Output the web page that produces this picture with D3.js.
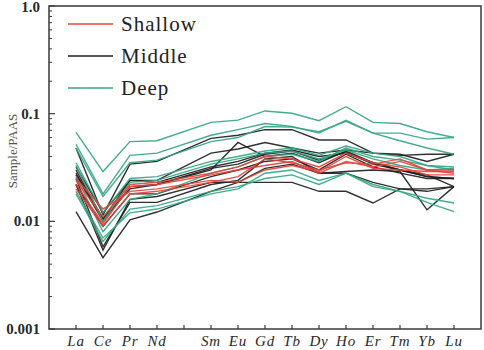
<!DOCTYPE html>
<html><head><meta charset="utf-8">
<script src="https://cdn.jsdelivr.net/npm/d3@7"></script>
<style>html,body{margin:0;padding:0;background:#fff;}svg{display:block;}</style>
</head><body><svg id="c" width="484" height="350"></svg>
<script>
const elements = ["La","Ce","Pr","Nd","Pm","Sm","Eu","Gd","Tb","Dy","Ho","Er","Tm","Yb","Lu"];
const labels = ["La","Ce","Pr","Nd","","Sm","Eu","Gd","Tb","Dy","Ho","Er","Tm","Yb","Lu"];
const plotted = ["La","Ce","Pr","Nd","Sm","Eu","Gd","Tb","Dy","Ho","Er","Tm","Yb","Lu"];
const yTicks = [0.001, 0.01, 0.1, 1];
const yTickLabels = ["0.001","0.01","0.1","1.0"];

const shallow = [
  [0.020,0.0090,0.018,0.019,0.023,0.026,0.038,0.035,0.030,0.035,0.034,0.038,0.030,0.030],
  [0.022,0.0095,0.021,0.022,0.027,0.030,0.033,0.036,0.028,0.036,0.032,0.036,0.030,0.028],
  [0.025,0.0130,0.019,0.020,0.024,0.023,0.030,0.033,0.029,0.040,0.031,0.030,0.029,0.029],
  [0.024,0.0110,0.022,0.023,0.028,0.032,0.040,0.038,0.032,0.043,0.035,0.032,0.027,0.027]
];
const middle = [
  [0.048,0.0115,0.034,0.036,0.059,0.063,0.071,0.071,0.057,0.057,0.043,0.041,0.042,0.042],
  [0.030,0.0105,0.024,0.024,0.043,0.047,0.054,0.048,0.043,0.046,0.043,0.042,0.036,0.042],
  [0.027,0.0100,0.021,0.022,0.030,0.054,0.040,0.043,0.035,0.045,0.035,0.030,0.026,0.025],
  [0.0123,0.0046,0.0103,0.0122,0.019,0.023,0.023,0.023,0.019,0.019,0.0148,0.020,0.020,0.021],
  [0.025,0.0058,0.015,0.015,0.022,0.024,0.038,0.040,0.028,0.029,0.030,0.029,0.0128,0.021],
  [0.022,0.0090,0.018,0.018,0.026,0.030,0.036,0.038,0.030,0.042,0.032,0.028,0.025,0.025],
  [0.028,0.0105,0.020,0.022,0.031,0.034,0.042,0.045,0.037,0.044,0.034,0.030,0.026,0.025],
  [0.032,0.0120,0.024,0.023,0.032,0.036,0.043,0.046,0.040,0.043,0.035,0.030,0.027,0.021],
  [0.022,0.0054,0.016,0.017,0.023,0.023,0.031,0.034,0.028,0.028,0.023,0.020,0.019,0.021]
];
const deep = [
  [0.067,0.029,0.055,0.056,0.083,0.087,0.106,0.101,0.086,0.116,0.083,0.081,0.068,0.060],
  [0.052,0.018,0.041,0.043,0.063,0.071,0.081,0.076,0.066,0.087,0.066,0.066,0.058,0.060],
  [0.048,0.017,0.035,0.037,0.055,0.060,0.076,0.075,0.068,0.085,0.066,0.056,0.048,0.042],
  [0.035,0.012,0.025,0.026,0.036,0.040,0.045,0.048,0.041,0.050,0.043,0.040,0.033,0.032],
  [0.033,0.010,0.023,0.024,0.034,0.038,0.043,0.045,0.038,0.046,0.038,0.033,0.030,0.031],
  [0.018,0.0065,0.013,0.014,0.019,0.021,0.025,0.027,0.022,0.028,0.021,0.019,0.0164,0.0148],
  [0.019,0.0070,0.012,0.013,0.018,0.020,0.028,0.030,0.024,0.028,0.022,0.019,0.015,0.0123],
  [0.026,0.0080,0.016,0.018,0.028,0.032,0.040,0.042,0.036,0.048,0.040,0.037,0.033,0.030]
];
const groups = ["Shallow","Middle","Deep"];
const colors = ["#e4433c","#1e1e1e","#34a683"];

const svg = d3.select("#c");
const L = 49, R = 481, T = 6, B = 329;
const x = d3.scaleLinear().domain([-1, elements.length]).range([L, R]);
const y = d3.scaleLog().domain([0.001, 1]).range([B, T]);

// frame
svg.append("rect").attr("x", L).attr("y", T).attr("width", R - L).attr("height", B - T)
  .attr("fill", "none").attr("stroke", "#3a3a3a").attr("stroke-width", 1.5);

// y axis ticks (inward)
const minor = [];
[0.001, 0.01, 0.1].forEach(d => { for (let k = 2; k <= 9; k++) minor.push(d * k); });
svg.append("g").selectAll("line.mi").data(minor).join("line")
  .attr("x1", L).attr("x2", L + 3).attr("y1", d => y(d)).attr("y2", d => y(d))
  .attr("stroke", "#3a3a3a").attr("stroke-width", 1);
svg.append("g").selectAll("line.ma").data(yTicks).join("line")
  .attr("x1", L).attr("x2", L + 6).attr("y1", d => y(d)).attr("y2", d => y(d))
  .attr("stroke", "#3a3a3a").attr("stroke-width", 1.2);
svg.append("g").selectAll("text").data(yTicks).join("text")
  .attr("x", L - 9).attr("y", d => Math.max(y(d) + 5, 12)).attr("text-anchor", "end")
  .attr("font-family", "Liberation Serif, serif").attr("font-size", 15).attr("font-weight", "bold")
  .attr("fill", "#2a2a2a").text((d, i) => yTickLabels[i]);

// x ticks and labels
svg.append("g").selectAll("line").data(elements).join("line")
  .attr("x1", (d, i) => x(i)).attr("x2", (d, i) => x(i)).attr("y1", B).attr("y2", B - 4)
  .attr("stroke", "#3a3a3a").attr("stroke-width", 1.2);
svg.append("g").selectAll("text").data(labels).join("text")
  .attr("x", (d, i) => x(i)).attr("y", 346).attr("text-anchor", "middle")
  .attr("font-family", "Liberation Serif, serif").attr("font-size", 15).attr("font-style", "italic")
  .attr("letter-spacing", 0.8).attr("fill", "#2a2a2a").text(d => d);

// y label
svg.append("text").attr("transform", "translate(17,151) rotate(-90)").attr("text-anchor", "middle")
  .attr("font-family", "Liberation Serif, serif").attr("font-size", 13).attr("fill", "#555")
  .text("Sample/PAAS");

// lines
const idx = plotted.map(e => elements.indexOf(e));
const line = d3.line().x((d, i) => x(idx[i])).y(d => y(d));
const order = [[middle, 1], [deep, 2], [shallow, 0]];
order.forEach(([set, gi]) => {
  svg.append("g").selectAll("path").data(set).join("path")
    .attr("d", line).attr("fill", "none").attr("stroke", colors[gi])
    .attr("stroke-width", 1.4).attr("stroke-linejoin", "miter").attr("opacity", 0.92);
});

// legend
const lg = svg.append("g");
groups.forEach((g, i) => {
  const yy = 24 + i * 32;
  lg.append("line").attr("x1", 68).attr("x2", 113).attr("y1", yy).attr("y2", yy)
    .attr("stroke", colors[i]).attr("stroke-width", 1.4);
  lg.append("text").attr("x", 121).attr("y", yy + 7).attr("font-family", "Liberation Serif, serif")
    .attr("font-size", 21).attr("letter-spacing", 1).attr("fill", "#222").text(g);
});
</script></body></html>
